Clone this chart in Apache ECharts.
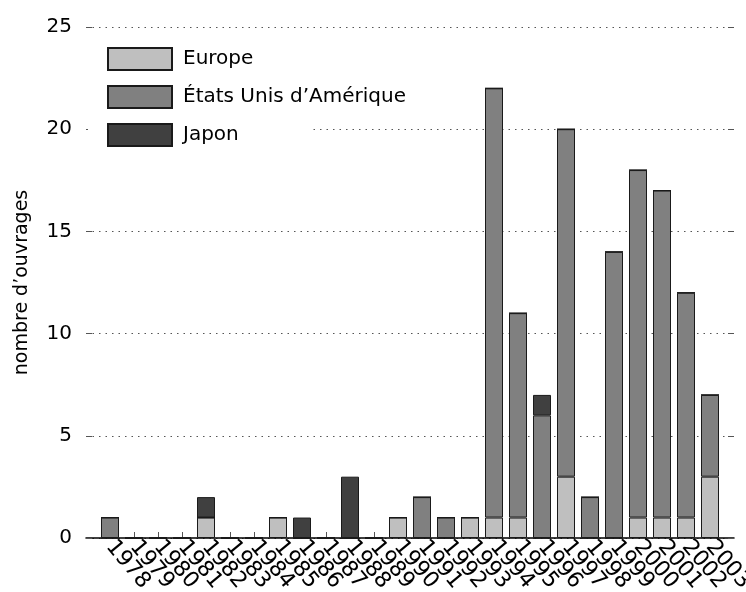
<!DOCTYPE html>
<html>
<head>
<meta charset="utf-8">
<script src="https://cdn.jsdelivr.net/npm/echarts@6/dist/echarts.min.js"></script>
<style>html,body{margin:0;padding:0;background:#fff;}#c{width:746px;height:592px;}</style>
</head>
<body>
<div id="c"></div>
<script>
const years = ['1978','1979','1980','1981','1982','1983','1984','1985','1986','1987','1988','1989','1990','1991','1992','1993','1994','1995','1996','1997','1998','1999','2000','2001','2002','2003'];
const europe = [0,0,0,0,1,0,0,1,0,0,0,0,1,0,0,1,1,1,0,3,0,0,1,1,1,3];
const usa    = [1,0,0,0,0,0,0,0,0,0,0,0,0,2,1,0,21,10,6,17,2,14,17,16,11,4];
const japon  = [0,0,0,0,1,0,0,0,1,0,3,0,0,0,0,0,0,0,1,0,0,0,0,0,0,0];
const yTicks = [0,5,10,15,20,25];

const cats = [''].concat(years, ['']);
const pad = a => [null].concat(a, [null]);
const n = cats.length;
const font = 'DejaVu Sans';

const chart = echarts.init(document.getElementById('c'), null, {renderer:'canvas'});
const barCommon = {type:'bar', stack:'t', barWidth:18};
chart.setOption({
  animation:false,
  textStyle:{fontFamily:font},
  grid:{left:86, right:12, top:27, bottom:54, containLabel:false, outerBoundsMode:'none'},
  legend:{left:102, top:42, orient:'vertical', itemWidth:64, itemHeight:22, itemGap:14,
    icon:'rect', padding:5, z:10,
    textStyle:{fontFamily:font, fontSize:20, color:'#000', padding:[0,0,0,6]},
    data:['Europe','États Unis d\u2019Amérique','Japon']},
  graphic:[{type:'rect', z:1, shape:{x:88, y:124, width:222, height:10}, style:{fill:'#fff'}}],
  xAxis:{type:'category', data:cats, boundaryGap:false,
    axisLine:{lineStyle:{color:'#000', width:1.5}},
    axisTick:{inside:true, length:6, lineStyle:{color:'#555'}, interval:(i)=> i>0 && i<n-1},
    axisLabel:{rotate:-50, fontSize:22, color:'#000', margin:5, interval:0, hideOverlap:false, fontFamily:font},
    splitLine:{show:false}},
  yAxis:[{type:'value', min:yTicks[0], max:yTicks[yTicks.length-1], interval:5,
    name:'nombre d\u2019ouvrages', nameLocation:'middle', nameGap:54, nameRotate:90,
    nameTextStyle:{fontSize:19, color:'#000', fontFamily:font},
    axisLine:{show:false},
    axisTick:{show:true, inside:true, length:6, lineStyle:{color:'#555'}},
    axisLabel:{fontSize:20, color:'#000', margin:14, fontFamily:font},
    splitLine:{show:true, lineStyle:{color:'#555', type:[1.5,5], width:1}}},
   {type:'value', position:'right', min:yTicks[0], max:yTicks[yTicks.length-1], interval:5,
    axisLine:{show:false}, axisLabel:{show:false}, splitLine:{show:false},
    axisTick:{show:true, inside:true, length:6, lineStyle:{color:'#555'}}}],
  series:[
    Object.assign({}, barCommon, {name:'Europe', data:pad(europe), itemStyle:{color:'#bfbfbf', borderColor:'#1a1a1a', borderWidth:1}}),
    Object.assign({}, barCommon, {name:'États Unis d\u2019Amérique', data:pad(usa), itemStyle:{color:'#808080', borderColor:'#1a1a1a', borderWidth:1}}),
    Object.assign({}, barCommon, {name:'Japon', data:pad(japon), itemStyle:{color:'#404040', borderColor:'#1a1a1a', borderWidth:1}})
  ]
});
</script>
</body>
</html>
